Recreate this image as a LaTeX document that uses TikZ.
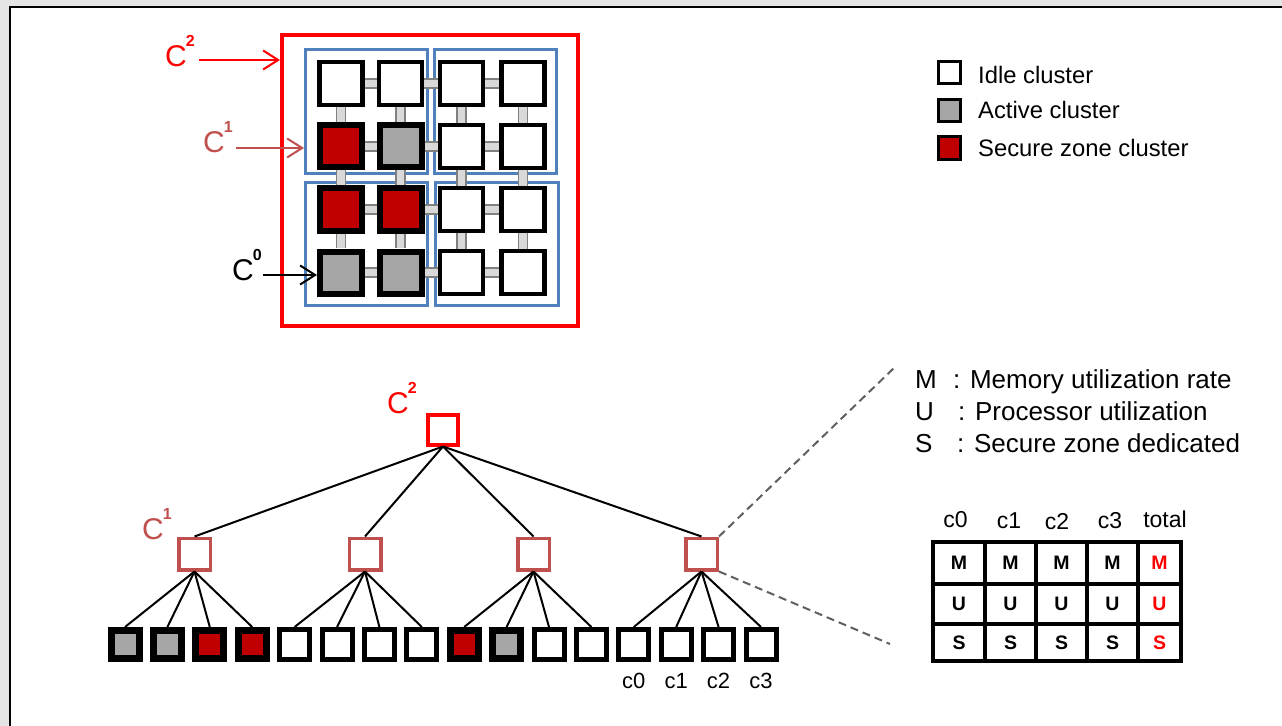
\documentclass[tikz,border=0pt]{standalone}
\usepackage{fontspec}
\setmainfont{Liberation Sans}
\usetikzlibrary{arrows.meta,positioning}
\definecolor{secred}{HTML}{C00000}
\definecolor{actgray}{HTML}{A6A6A6}
\definecolor{lvlred}{HTML}{C0504D}
\definecolor{lvlblue}{HTML}{4F81BD}
\definecolor{linkfill}{HTML}{D9D9D9}
\definecolor{linkdraw}{HTML}{808080}
\definecolor{cutgray}{HTML}{606060}
\newcommand{\clevel}[1]{C\kern-1bp\raisebox{20bp}{\fontsize{16bp}{16bp}\selectfont\bfseries #1}}
\tikzset{
	idlebox/.style={draw=black,fill=white,line width=4.5bp,minimum size=43bp,inner sep=0pt},
	activebox/.style={idlebox,fill=actgray,line width=6bp,minimum size=42bp},
	securebox/.style={idlebox,fill=secred,line width=6bp,minimum size=42bp},
	link/.style={draw=linkdraw,line width=1.3bp,double=linkfill,double distance=7.5bp},
	c1box/.style={draw=lvlblue,line width=3bp,inner sep=0pt},
	clabel/.style={inner sep=0pt,anchor=base east,font=\fontsize{30bp}{30bp}\selectfont},
	arr/.style={line width=2bp,-{Straight Barb[length=15bp,width=19bp]}},
	legbox/.style={draw=black,line width=3bp,minimum size=22.5bp,inner sep=0pt},
	legtext/.style={anchor=base west,inner sep=0pt,font=\fontsize{23.8bp}{28bp}\selectfont},
	rootbox/.style={draw=red,fill=white,line width=4bp,minimum size=30bp,inner sep=0pt},
	midbox/.style={draw=lvlred,fill=white,line width=3.5bp,minimum size=31.5bp,inner sep=0pt},
	idleleaf/.style={draw=black,fill=white,line width=5bp,minimum size=30bp,inner sep=0pt},
	activeleaf/.style={idleleaf,fill=actgray,line width=7bp,minimum size=28bp},
	secureleaf/.style={idleleaf,fill=secred,line width=7bp,minimum size=28bp},
	edge/.style={line width=2bp},
	cutline/.style={draw=cutgray,line width=2bp,dash pattern=on 8bp off 5bp},
	desc/.style={anchor=base west,inner sep=0pt,font=\fontsize{26bp}{30bp}\selectfont},
	cell/.style={draw=black,line width=4bp,inner sep=0pt,font=\fontsize{19.5bp}{20bp}\selectfont\bfseries},
	colhead/.style={anchor=base,inner sep=0pt,font=\fontsize{23bp}{26bp}\selectfont},
	leafname/.style={inner sep=0pt,font=\fontsize{22bp}{24bp}\selectfont}
}
\begin{document}
\begin{tikzpicture}[x=1bp,y=-1bp]
		\useasboundingbox (0,0) rectangle (1282,726);
		\fill[black!10] (0,0) rectangle (1282,726);
		\fill[white] (10.3,6.7) rectangle (1282,726);
		\draw[line width=2bp] (10.3,726) -- (10.3,6.7) -- (1282,6.7);
		
		\node[draw=red,line width=4bp,minimum width=296bp,minimum height=290.7bp,inner sep=0pt] (c2box) at (430,180.7) {};
		\node[c1box,minimum width=122bp,minimum height=124bp] (bTL) at (366.5,111.5) {};
		\node[c1box,minimum width=122bp,minimum height=124bp] (bTR) at (495.5,111.5) {};
		\node[c1box,minimum width=122bp,minimum height=123bp] (bBL) at (366.5,244) {};
		\node[c1box,minimum width=123bp,minimum height=123bp] (bBR) at (497,244) {};
		
		\foreach \r/\y/\ka/\kb in {1/83.5/idlebox/idlebox,2/146.5/securebox/activebox,3/209.5/securebox/securebox,4/272.5/activebox/activebox}
		{
			\node[\ka] (g\r1) at (341,\y) {};
			\node[\kb] (g\r2) at (400.5,\y) {};
			\node[idlebox] (g\r3) at (461.5,\y) {};
			\node[idlebox] (g\r4) at (523,\y) {};
		}
		\foreach \r in {1,...,4}
		{
			\foreach \c [evaluate=\c as \n using int(\c+1)] in {1,2,3}
			{
				\draw[link] (g\r\c) -- (g\r\n);
				\draw[link] (g\c\r) -- (g\n\r);
			}
		}
		
		\coordinate (a2) at (199,60);
		\coordinate (a1) at (236,148);
		\coordinate (a0) at (263,275);
		\node[clabel,text=red] (l2) at (195,67) {\clevel{2}};
		\node[clabel,text=lvlred] (l1) at (233,153) {\clevel{1}};
		\node[clabel] (l0) at (262,280) {\clevel{0}};
		\draw[arr,red] (a2) -- (a2 -| c2box.west);
		\draw[arr,lvlred] (a1) -- (a1 -| bTL.west);
		\draw[arr] (a0) -- (a0 -| g41.west);
		
		\node[legbox,fill=white] (k1) at (949.5,72.5) {};
		\node[legbox,fill=actgray] (k2) at (949.5,110.5) {};
		\node[legbox,fill=secred] (k3) at (949.5,148) {};
		\node[legtext] (k1t) at (978,83.5) {Idle cluster};
		\node[legtext] (k2t) at (978,118.5) {Active cluster};
		\node[legtext] (k3t) at (978,156.5) {Secure zone cluster};
		
		\node[rootbox] (root) at (443,429.5) {};
		\node[clabel,text=red] (r2) at (417,413) {\clevel{2}};
		\foreach \p/\x in {1/194.5,2/365,3/533.5,4/701.5}
		{
			\node[midbox] (t\p) at (\x,554) {};
			\draw[edge] (root.south) -- (t\p.north);
		}
		\node[clabel,text=lvlred] (r1) at (172,539) {\clevel{1}};
		\foreach \i/\k in {1/activeleaf,2/activeleaf,3/secureleaf,4/secureleaf,5/idleleaf,6/idleleaf,7/idleleaf,8/idleleaf,9/secureleaf,10/activeleaf,11/idleleaf,12/idleleaf,13/idleleaf,14/idleleaf,15/idleleaf,16/idleleaf}
			\node[\k] (l\i) at ({125+42.4*(\i-1)},644.5) {};
		\foreach \p in {1,...,4}
		{
			\foreach \j [evaluate=\j as \m using int(4*(\p-1)+\j)] in {1,...,4}
				\draw[edge] (t\p.south) -- (l\m.north);
		}
		\foreach \j/\i in {0/13,1/14,2/15,3/16}
			\node[leafname,below=11bp of l\i] (n\j) {c\j};
		
		\coordinate (z1) at (895,367);
		\coordinate (z2) at (890,644);
		\draw[cutline] (t4.north east) -- (z1);
		\draw[cutline] (t4.south east) -- (z2);
		
		\node[desc] (dm) at (915,388) {\makebox[38bp][l]{M}: Memory utilization rate};
		\node[desc] (du) at (915,420) {\makebox[43bp][l]{U}: Processor utilization};
		\node[desc] (ds) at (915,452) {\makebox[42bp][l]{S}: Secure zone dedicated};
		
		\foreach \lt/\y/\h in {M/563/42,U/604/40,S/642.5/37}
		{
			\foreach \cn/\x/\w/\tc in {0/959/52/black,1/1010.5/51/black,2/1061.5/51/black,3/1112.5/51/black,4/1159.5/43/red}
				\node[cell,minimum width=\w bp,minimum height=\h bp,text=\tc] (\lt\cn) at (\x,\y) {\lt};
		}
		\node[colhead] (h0) at (955.5,527) {c0};
		\node[colhead] (h1) at (1009,528) {c1};
		\node[colhead] (h2) at (1057,529) {c2};
		\node[colhead] (h3) at (1110,528) {c3};
		\node[colhead] (h4) at (1165,527) {total};
\end{tikzpicture}
\end{document}
